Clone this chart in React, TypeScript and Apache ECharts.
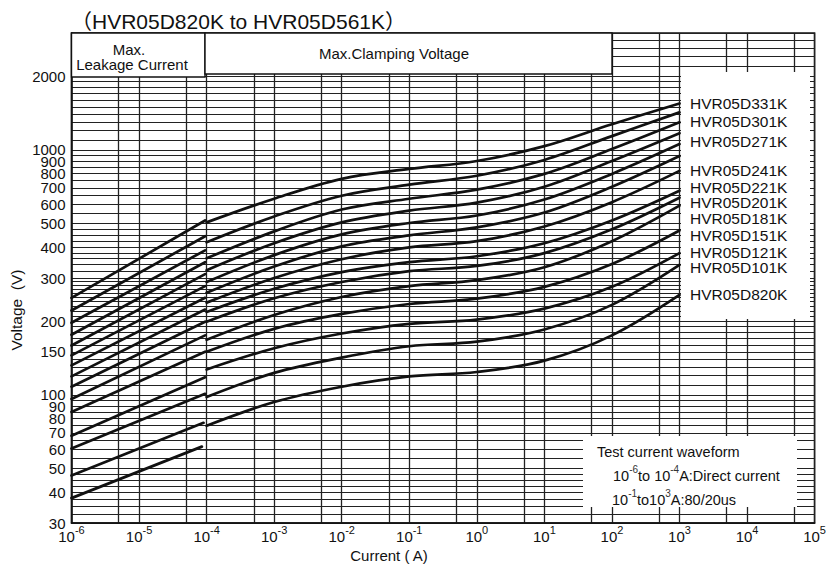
import React, { useEffect, useRef } from 'react';
import * as echarts from 'echarts';

const titleText = '（HVR05D820K to HVR05D561K）';

// x axis (current, A) – grid lines at 1 and 5 of every decade
const xGridValues = [1e-6, 5e-6, 1e-5, 5e-5, 1e-4, 5e-4, 1e-3, 5e-3, 1e-2, 5e-2, 1e-1, 5e-1, 1, 5, 10, 50, 100, 500, 1000, 5000, 10000, 50000, 100000];
const xLabelValues = [1e-6, 1e-5, 1e-4, 1e-3, 1e-2, 1e-1, 1, 10, 100, 1000, 10000, 100000];

// y axis (voltage, V)
const yLabelValues = [30, 40, 50, 60, 70, 80, 90, 100, 150, 200, 300, 400, 500, 600, 700, 800, 900, 1000, 2000];
const yGridValues = [
  30, 32.5, 35, 37.5, 40, 42.5, 45, 47.5, 50, 55, 60, 65, 70, 75, 80, 85, 90, 95, 100,
  110, 120, 130, 140, 150, 160, 170, 180, 190, 200, 210, 220, 230, 240, 250, 260, 270, 280, 290, 300,
  320, 340, 360, 380, 400, 425, 450, 475, 500, 550, 600, 650, 700, 750, 800, 850, 900, 950, 1000,
  1100, 1200, 1300, 1400, 1500, 1600, 1700, 1800, 1900, 2000, 2200, 2400, 2600, 2800, 3000,
];

// Max. leakage current lines (straight segments, 1e-6 A -> end current)
const leakStartI = 1e-6;
const leakStartV = [37.9, 46.9, 60.4, 68.1, 85.2, 96.2, 108, 119, 132, 145, 159, 176, 197, 221, 249];
const leakEndI = [8.5e-5, 9e-5, 9.5e-5, 9.5e-5, 9.5e-5, 9.5e-5, 9.5e-5, 9.5e-5, 9.5e-5, 9.5e-5, 9.5e-5, 9.5e-5, 9.5e-5, 9.5e-5, 9.5e-5];
const leakEndV = [61.5, 76.9, 101, 118, 150, 175, 199, 223, 249, 278, 311, 348, 389, 444, 515];

// Max. clamping voltage curves
const clampCurrent = [1e-4, 1e-3, 1e-2, 1e-1, 1, 10, 100, 1000];
const clamp01 = [506, 632, 762, 836, 901, 1036, 1273, 1547];
const clamp02 = [420, 535, 650, 721, 784, 910, 1138, 1423];
const clamp03 = [361, 465, 571, 632, 688, 798, 1008, 1296];
const clamp04 = [323, 416, 506, 565, 609, 707, 901, 1170];
const clamp05 = [289, 372, 452, 503, 540, 627, 798, 1056];
const clamp06 = [261, 334, 404, 448, 483, 555, 707, 944];
const clamp07 = [238, 300, 358, 400, 424, 487, 612, 821];
const clamp08 = [218, 271, 317, 348, 368, 416, 515, 681];
const clamp09 = [199, 248, 289, 320, 336, 379, 474, 638];
const clamp10 = [168, 212, 251, 278, 294, 332, 424, 592];
const clamp11 = [150, 186, 214, 235, 247, 276, 342, 469];
const clamp12 = [127, 155, 178, 195, 203, 225, 276, 379];
const clamp13 = [98, 123, 142, 158, 165, 185, 233, 339];
const clamp14 = [74.8, 93.5, 108, 119, 124, 138, 175, 256];
const clampCurves = [clamp01, clamp02, clamp03, clamp04, clamp05, clamp06, clamp07, clamp08, clamp09, clamp10, clamp11, clamp12, clamp13, clamp14];

const partLabels = ['HVR05D331K', 'HVR05D301K', 'HVR05D271K', 'HVR05D241K', 'HVR05D221K', 'HVR05D201K', 'HVR05D181K', 'HVR05D151K', 'HVR05D121K', 'HVR05D101K', 'HVR05D820K'];
const partLabelY = [103, 121, 141, 170, 187, 202, 218, 235, 252, 267, 294];

const FONT = '"Liberation Sans", Arial, "Noto Sans CJK SC", sans-serif';
const INK = '#111';

export default function App() {
  const ref = useRef<HTMLDivElement>(null);
  useEffect(() => {
    const chart = echarts.init(ref.current!, null, { renderer: 'svg' });

    const lineStyle = { color: INK, width: 2.7, cap: 'round' as const };
    const series: any[] = [];
    leakStartV.forEach((v, i) => {
      series.push({
        type: 'line', silent: true, symbol: 'none', lineStyle, z: 3,
        data: [[leakStartI, v], [leakEndI[i], leakEndV[i]]],
      });
    });
    clampCurves.forEach((arr) => {
      series.push({
        type: 'line', silent: true, symbol: 'none', smooth: 0.35, lineStyle, z: 3,
        data: clampCurrent.map((c, k) => [c, arr[k]]),
      });
    });

    const legendTexts = partLabels.map((t, i) => ({
      type: 'text', z: 60, x: 690, y: partLabelY[i],
      style: { text: t, fontSize: 15.5, fontFamily: FONT, fill: INK, verticalAlign: 'middle' },
    }));

    const sup = { fontSize: 10, lineHeight: 10, verticalAlign: 'top', fontFamily: FONT, fill: '#333', color: '#333' };
    const nrm = { fontSize: 14.5, lineHeight: 19, verticalAlign: 'bottom', fontFamily: FONT, fill: INK, color: INK };

    const option: any = {
      animation: false,
      backgroundColor: '#fff',
      title: {
        text: titleText, left: 66, top: 6,
        textStyle: { fontSize: 21, fontWeight: 'normal', color: INK, fontFamily: FONT },
      },
      grid: { left: 71.5, right: 14, top: 33, bottom: 42, show: true, borderColor: INK, borderWidth: 1.5, backgroundColor: 'transparent' },
      xAxis: {
        type: 'log', logBase: 10, min: 1e-6, max: 1e5,
        axisLine: { show: true, lineStyle: { color: INK, width: 1.5 } },
        axisTick: { show: false, customValues: xGridValues },
        splitLine: { show: true, lineStyle: { color: '#222', width: 1.3 } },
        minorSplitLine: { show: false },
        axisLabel: {
          customValues: xLabelValues,
          margin: 1,
          formatter: (v: number) => `{b|10}{s|${Math.round(Math.log10(v))}}`,
          rich: {
            b: { fontSize: 15, lineHeight: 20, verticalAlign: 'bottom', fontFamily: FONT, color: INK },
            s: { fontSize: 11, lineHeight: 10, verticalAlign: 'top', fontFamily: FONT, color: INK },
          },
        },
      },
      yAxis: {
        type: 'log', logBase: 10, min: 30, max: 3000,
        axisLine: { show: true, lineStyle: { color: INK, width: 1.5 } },
        axisTick: { show: false, customValues: yGridValues },
        splitLine: { show: true, lineStyle: { color: '#222', width: 1.2 } },
        axisLabel: {
          customValues: yLabelValues,
          margin: 6,
          fontSize: 15, lineHeight: 11, fontFamily: FONT, color: INK,
          formatter: (v: number) => String(Math.round(v)),
        },
      },
      graphic: [
        { type: 'rect', z: 50, shape: { x: 71.5, y: 33, width: 133.5, height: 44 }, style: { fill: '#fff', stroke: INK, lineWidth: 1.4 } },
        { type: 'rect', z: 50, shape: { x: 205, y: 33, width: 407, height: 41 }, style: { fill: '#fff', stroke: INK, lineWidth: 1.4 } },
        { type: 'rect', z: 50, shape: { x: 681, y: 72, width: 129, height: 247 }, style: { fill: '#fff', lineWidth: 0 } },
        { type: 'rect', z: 50, shape: { x: 583, y: 436, width: 214, height: 71 }, style: { fill: '#fff', lineWidth: 0 } },
        { type: 'text', z: 60, x: 129, y: 49, style: { text: 'Max.', fontSize: 15, fontFamily: FONT, fill: INK, align: 'center', verticalAlign: 'middle' } },
        { type: 'text', z: 60, x: 132, y: 64, style: { text: 'Leakage Current', fontSize: 15, fontFamily: FONT, fill: INK, align: 'center', verticalAlign: 'middle' } },
        { type: 'text', z: 60, x: 394, y: 53, style: { text: 'Max.Clamping Voltage', fontSize: 15, fontFamily: FONT, fill: INK, align: 'center', verticalAlign: 'middle' } },
        ...legendTexts,
        { type: 'text', z: 60, x: 597, y: 452, style: { text: 'Test current waveform', fontSize: 14.5, fontFamily: FONT, fill: INK, verticalAlign: 'middle' } },
        {
          type: 'text', z: 60, x: 613, y: 474,
          style: {
            text: '{n|10}{s|-6}{n|to 10}{s|-4}{n|A:Direct current}', verticalAlign: 'middle',
            rich: { n: nrm, s: sup },
          },
        },
        {
          type: 'text', z: 60, x: 612, y: 498,
          style: {
            text: '{n|10}{s|-1}{n|to10}{s|3}{n|A:80/20us}', verticalAlign: 'middle',
            rich: { n: nrm, s: sup },
          },
        },
        { type: 'text', z: 60, x: 389, y: 555, style: { text: 'Current ( A)', fontSize: 15, fontFamily: FONT, fill: INK, align: 'center', verticalAlign: 'middle' } },
        { type: 'text', z: 60, x: 16, y: 310, rotation: Math.PI / 2, style: { text: 'Voltage  (V)', fontSize: 15.5, fontFamily: FONT, fill: INK, align: 'center', verticalAlign: 'middle' } },
      ],
      series,
    };
    chart.setOption(option);
    return () => chart.dispose();
  }, []);
  return <div ref={ref} style={{ position: 'absolute', left: 0, top: 0, width: 829, height: 565, background: '#fff' }} />;
}
